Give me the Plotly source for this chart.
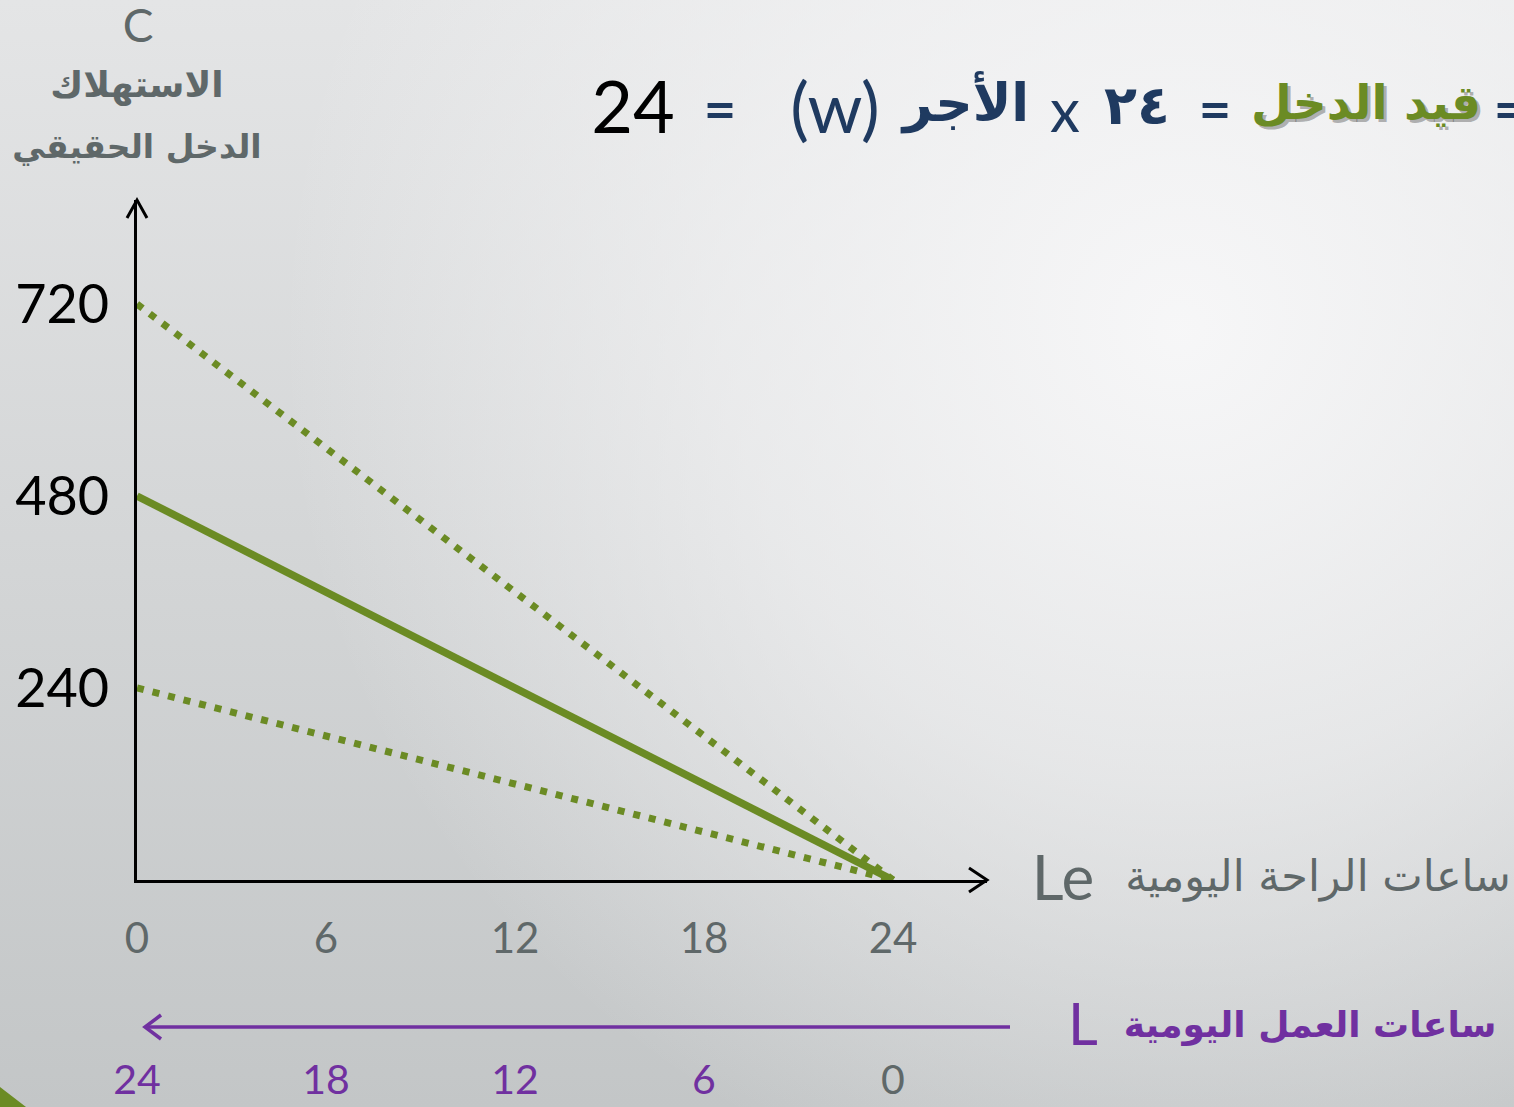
import base64
import plotly.graph_objects as go

# Budget lines: daily leisure hours vs real income (C)
leisure_hours = [0, 24]
income_w30 = [720, 0]
income_w20 = [480, 0]
income_w10 = [240, 0]

leisure_ticks = [0, 6, 12, 18, 24]
work_ticks = [24, 18, 12, 6, 0]
income_ticks = [240, 480, 720]

W, H = 1514, 1107
GREEN = "#6b8b24"
PURPLE = "#7030a0"
GREY = "#5f6869"
NAVY = "#1f3a60"
LATIN = "Lato, DejaVu Sans, sans-serif"
ARABIC = "DejaVu Sans, sans-serif"


def px(x):
    return x / W


def py(y):
    return 1 - y / H


# pixel frame of the drawing
X0_PX, X24_PX, XEND_PX = 137, 893, 987
Y0_PX, YTOP_PX = 880, 200
X_MAX = 24 * (XEND_PX - X0_PX) / (X24_PX - X0_PX)
Y_MAX = 850

# soft grey slide background
bg_svg = f"""<svg xmlns='http://www.w3.org/2000/svg' width='{W}' height='{H}' viewBox='0 0 {W} {H}' preserveAspectRatio='none'>
<defs>
<linearGradient id='v' x1='0' y1='0' x2='0' y2='1'>
<stop offset='0' stop-color='#e4e5e6'/><stop offset='1' stop-color='#c3c6c7'/></linearGradient>
<radialGradient id='r' gradientUnits='userSpaceOnUse' cx='1180' cy='330' r='900'>
<stop offset='0' stop-color='#f8f8f9' stop-opacity='0.95'/>
<stop offset='0.5' stop-color='#f6f6f7' stop-opacity='0.6'/>
<stop offset='1' stop-color='#f6f6f7' stop-opacity='0'/></radialGradient>
</defs>
<rect width='{W}' height='{H}' fill='url(#v)'/>
<rect width='{W}' height='{H}' fill='url(#r)'/>
</svg>"""
bg_uri = "data:image/svg+xml;base64," + base64.b64encode(bg_svg.encode()).decode()

fig = go.Figure()

fig.add_trace(go.Scatter(x=leisure_hours, y=income_w30, mode="lines",
                         line=dict(color=GREEN, width=7, dash="7px,9px"),
                         showlegend=False, hoverinfo="skip"))
fig.add_trace(go.Scatter(x=leisure_hours, y=income_w10, mode="lines",
                         line=dict(color=GREEN, width=7, dash="7px,9px"),
                         showlegend=False, hoverinfo="skip"))
fig.add_trace(go.Scatter(x=leisure_hours, y=income_w20, mode="lines",
                         line=dict(color=GREEN, width=7.5),
                         showlegend=False, hoverinfo="skip"))
# invisible trace to carry the working-hours axis
fig.add_trace(go.Scatter(x=work_ticks, y=[None] * len(work_ticks), xaxis="x2",
                         mode="lines", showlegend=False, hoverinfo="skip"))

# captions and the equation, laid out on a full-canvas pixel overlay
# (x, y, text, size, colour, family)
captions = [
    (138, 30, "C", 46, GREY, LATIN),
    (137, 88, "<b>الاستهلاك</b>", 36, GREY, ARABIC),
    (137, 150, "<b>الدخل الحقيقي</b>", 33, GREY, ARABIC),
    (1063, 884, "Le", 62, GREY, LATIN),
    (1318, 880, "ساعات الراحة اليومية", 43, GREY, ARABIC),
    (1083, 1030, "L", 58, PURPLE, LATIN),
    (1310, 1028, "<b>ساعات العمل اليومية</b>", 36, PURPLE, ARABIC),
    (633, 115, "24", 72, "black", LATIN),
    (720, 115, "<b>=</b>", 56, NAVY, LATIN),
    (835, 115, "(w)", 70, NAVY, LATIN),
    (966, 108, "<b>الأجر</b>", 52, NAVY, ARABIC),
    (1065, 117, "x", 60, NAVY, LATIN),
    (1137, 110, "<b>٢٤</b>", 54, NAVY, ARABIC),
    (1215, 115, "<b>=</b>", 56, NAVY, LATIN),
    (1369, 110, "<b>قيد الدخل</b>", 47, "rgba(50,50,50,0.35)", ARABIC),
    (1366, 107, "<b>قيد الدخل</b>", 47, GREEN, ARABIC),
    (1510, 115, "<b>=</b>", 56, NAVY, LATIN),
]
fig.add_trace(go.Scatter(
    x=[c[0] for c in captions], y=[c[1] for c in captions],
    text=[c[2] for c in captions], mode="text", textposition="middle center",
    textfont=dict(size=[c[3] for c in captions], color=[c[4] for c in captions],
                  family=[c[5] for c in captions]),
    xaxis="x3", yaxis="y3", showlegend=False, hoverinfo="skip"))

work_text = [str(v) for v in work_ticks[:-1]] + [f"<span style='color:{GREY}'>{work_ticks[-1]}</span>"]

fig.update_layout(
    width=W, height=H,
    margin=dict(l=0, r=0, t=0, b=0, autoexpand=False),
    paper_bgcolor="#dcdedf",
    plot_bgcolor="rgba(0,0,0,0)",
    showlegend=False,
    hovermode=False,
    xaxis=dict(domain=[px(X0_PX), px(XEND_PX)], range=[0, X_MAX], automargin=False,
               showgrid=False, zeroline=False, showline=True, linecolor="black", linewidth=3,
               tickvals=leisure_ticks, ticks="", ticklabelstandoff=20,
               tickfont=dict(family=LATIN, size=42, color=GREY)),
    yaxis=dict(domain=[py(Y0_PX), py(YTOP_PX)], range=[0, Y_MAX], automargin=False,
               showgrid=False, zeroline=False, showline=True, linecolor="black", linewidth=3,
               tickvals=income_ticks, ticks="", ticklabelstandoff=14,
               tickfont=dict(family=LATIN, size=54, color="black")),
    xaxis2=dict(overlaying="x", anchor="free", position=py(1027), side="bottom",
                range=[24, 24 - X_MAX], automargin=False,
                showgrid=False, zeroline=False, showline=False,
                tickvals=work_ticks, ticktext=work_text, ticks="", ticklabelstandoff=25,
                tickfont=dict(family=LATIN, size=41, color=PURPLE)),
    xaxis3=dict(domain=[0, 1], range=[0, W], anchor="y3", visible=False, fixedrange=True),
    yaxis3=dict(domain=[0, 1], range=[H, 0], anchor="x3", visible=False, fixedrange=True),
    images=[dict(source=bg_uri, xref="paper", yref="paper", x=0, y=1, sizex=1, sizey=1,
                 sizing="stretch", layer="below")],
)

# arrow heads and the working-hours arrow
fig.add_shape(type="path", xref="paper", yref="paper", xsizemode="pixel", ysizemode="pixel",
              xanchor=px(XEND_PX), yanchor=py(Y0_PX), path="M -18,12 L 0,0 L -18,-12",
              line=dict(color="black", width=3))
fig.add_shape(type="path", xref="paper", yref="paper", xsizemode="pixel", ysizemode="pixel",
              xanchor=px(X0_PX), yanchor=py(YTOP_PX), path="M -10,-18 L 0,0 L 10,-18",
              line=dict(color="black", width=3))
fig.add_shape(type="line", xref="paper", yref="paper", x0=px(1010), x1=px(145),
              y0=py(1027), y1=py(1027), line=dict(color=PURPLE, width=3.5))
fig.add_shape(type="path", xref="paper", yref="paper", xsizemode="pixel", ysizemode="pixel",
              xanchor=px(145), yanchor=py(1027), path="M 16,12 L 0,0 L 16,-12",
              line=dict(color=PURPLE, width=3.5))
# green corner triangle
fig.add_shape(type="path", xref="paper", yref="paper",
              path=f"M 0,{py(1087)} L {px(26)},{py(1107)} L 0,{py(1107)} Z",
              fillcolor=GREEN, line=dict(width=0))

fig.write_html("out.html", config={"displayModeBar": False},
               post_script="document.body.style.margin='0';")
